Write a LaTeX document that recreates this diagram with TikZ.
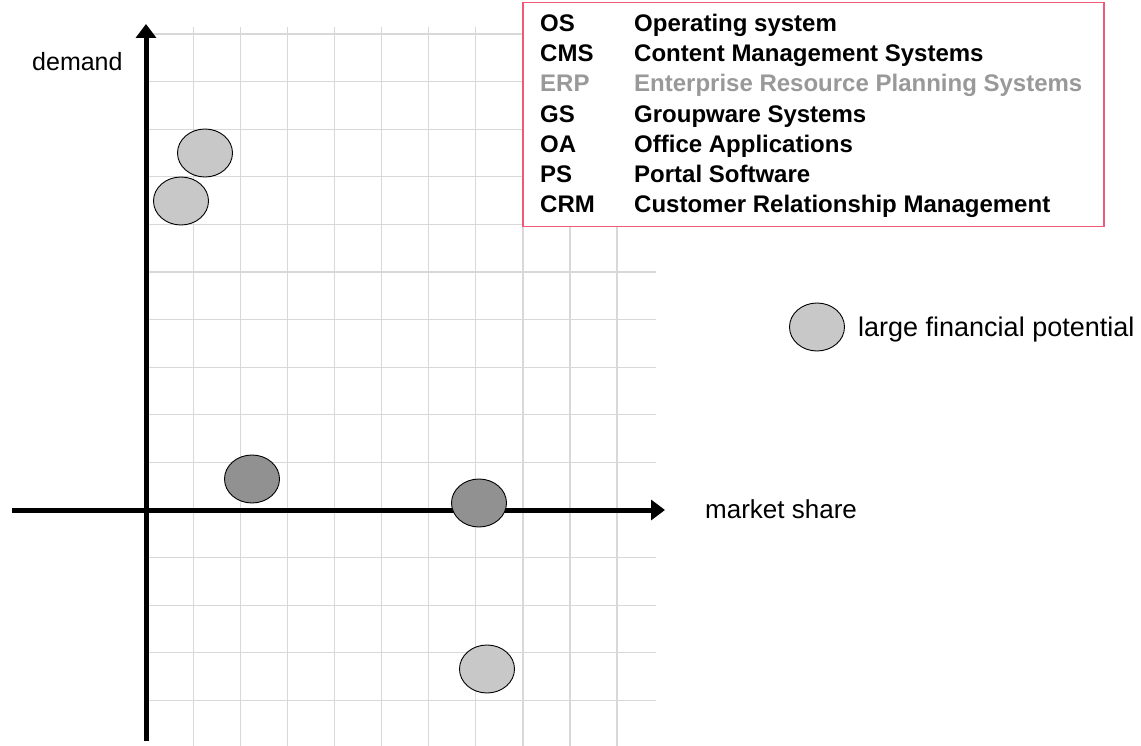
\documentclass[tikz,border=0pt]{standalone}
\usepackage{fontspec}
\setmainfont{Liberation Sans}
\usetikzlibrary{shapes.geometric,arrows.meta}

\definecolor{gridgray}{RGB}{216,216,216}
\definecolor{bubblelight}{RGB}{200,200,200}
\definecolor{bubbledark}{RGB}{145,145,145}
\definecolor{legendred}{RGB}{240,90,120}
\definecolor{erpgray}{RGB}{153,153,153}

\tikzset{
  gridline/.style={draw=gridgray, line width=1.2pt},
  axisline/.style={draw=black, line width=5pt, -{Triangle[length=14pt,width=20pt]}},
  bubble/.style={ellipse, draw=black, line width=0.9pt, minimum width=55pt,
                 minimum height=48pt, inner sep=0pt},
  lightbubble/.style={bubble, fill=bubblelight},
  darkbubble/.style={bubble, fill=bubbledark},
  axislabel/.style={anchor=base west, inner sep=0pt, font=\fontsize{26}{30}\selectfont},
  legendbox/.style={draw=legendred, fill=white, line width=1.5pt, anchor=north west,
                    minimum width=581pt, minimum height=224pt, inner sep=0pt},
  legendkey/.style={anchor=base west, inner sep=0pt, font=\fontsize{24}{28}\selectfont\bfseries},
}

\begin{document}
\begin{tikzpicture}[x=1pt,y=-1pt]
  \useasboundingbox (0,0) rectangle (1141,746);

  % light grid behind the axes
  \foreach \k in {1,...,10}
    \draw[gridline] ({146.5+47.05*\k},27) -- ({146.5+47.05*\k},746);
  \foreach \k in {-10,...,-1,1,2,3,4}
    \draw[gridline] (147,{510+47.6*\k}) -- (656,{510+47.6*\k});

  % axes
  \coordinate (xstart) at (12,510);
  \coordinate (xend)   at (665,510);
  \coordinate (ystart) at (146,741);
  \coordinate (yend)   at (146,24);
  \draw[axisline] (xstart) -- (xend);
  \draw[axisline] (ystart) -- (yend);

  \node[axislabel, font=\fontsize{25}{30}\selectfont] (demand) at (32,71) {demand};
  \node[axislabel] (market) at (705,518) {market share};

  % positioned segments
  \node[lightbubble] (b1) at (205,153) {};
  \node[lightbubble] (b2) at (181,201) {};
  \node[darkbubble]  (b3) at (252,479) {};
  \node[darkbubble]  (b4) at (479,503) {};
  \node[lightbubble] (b5) at (487,669) {};

  % key for the bubbles
  \node[lightbubble] (keybubble) at (817,327) {};
  \node[axislabel, font=\fontsize{27}{30}\selectfont] (keytext) at (858,336) {large financial potential};

  % abbreviations legend
  \node[legendbox] (legend) at (522,2) {};
  \node[legendkey] (k1) at (540,31.5)  {OS};
  \node[legendkey] (d1) at (634,31.5)  {Operating system};
  \node[legendkey] (k2) at (540,61.7)  {CMS};
  \node[legendkey] (d2) at (634,61.7)  {Content Management Systems};
  \node[legendkey, text=erpgray] (k3) at (540,91.9)  {ERP};
  \node[legendkey, text=erpgray] (d3) at (634,91.9)  {Enterprise Resource Planning Systems};
  \node[legendkey] (k4) at (540,122.1) {GS};
  \node[legendkey] (d4) at (634,122.1) {Groupware Systems};
  \node[legendkey] (k5) at (540,152.3) {OA};
  \node[legendkey] (d5) at (634,152.3) {Office Applications};
  \node[legendkey] (k6) at (540,182.5) {PS};
  \node[legendkey] (d6) at (634,182.5) {Portal Software};
  \node[legendkey] (k7) at (540,212.7) {CRM};
  \node[legendkey] (d7) at (634,212.7) {Customer Relationship Management};
\end{tikzpicture}
\end{document}
